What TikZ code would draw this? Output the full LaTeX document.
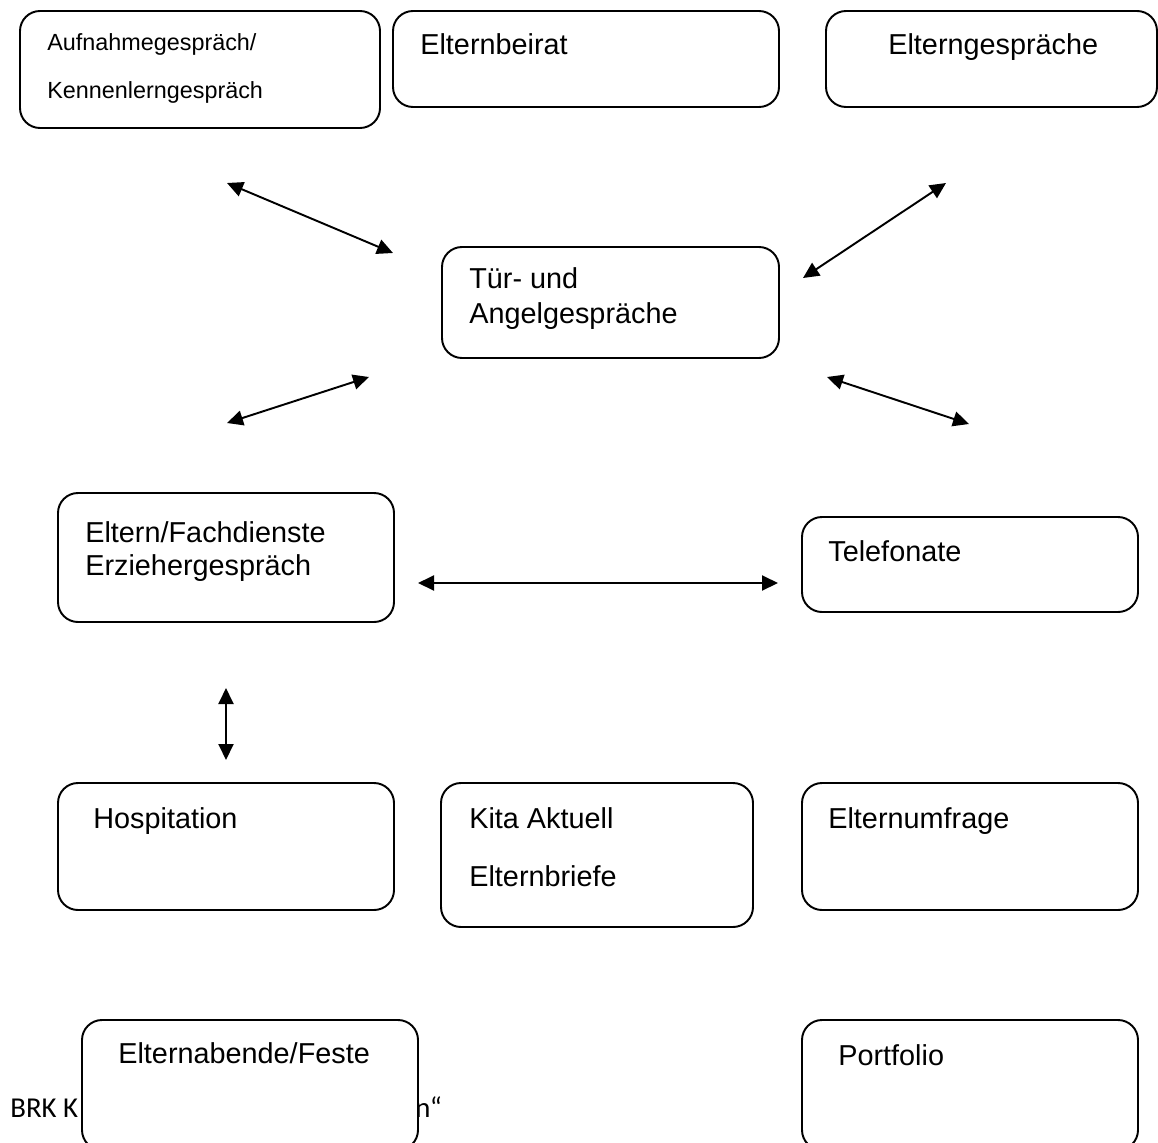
\documentclass[tikz,border=0pt]{standalone}
\usepackage{fontspec}
\setmainfont{Liberation Sans}
\newfontfamily\footfont{Carlito}
\usepackage{tikz}
\usetikzlibrary{arrows.meta,fit}

\begin{document}
\begin{tikzpicture}[
    x=0.02cm, y=-0.02cm,
    >={Triangle[length=0.32cm, width=0.3cm]},
    box/.style={draw, line width=1.1pt, rounded corners=0.4cm, fill=white, inner sep=0pt},
    txt/.style={anchor=base west, inner sep=0pt, font=\fontsize{16.4}{20}\selectfont},
    smalltxt/.style={anchor=base west, inner sep=0pt, font=\fontsize{13.3}{16}\selectfont},
    foot/.style={anchor=base west, inner sep=0pt, font=\footfont\fontsize{16.4}{20}\selectfont},
    link/.style={<->, line width=1.1pt}
]
    \useasboundingbox (0,0) rectangle (1158,1142);

    % Footer line (partly hidden behind the box below)
    \node[foot] (footA) at (10,1117) {BRK K};
    \node[foot] (footB) at (415,1117) {n“};

    % Top row
    \node[box, fit={(20,11) (380,128)}] (aufnahme) {};
    \node[smalltxt] (aufnahmeA) at (47,51) {Aufnahmegespräch/};
    \node[smalltxt] (aufnahmeB) at (47,99) {Kennenlerngespräch};
    \node[box, fit={(393,11) (779,107)}] (beirat) {};
    \node[txt] (beiratT) at (420,55) {Elternbeirat};
    \node[box, fit={(826,11) (1157,107)}] (gespraeche) {};
    \node[txt] (gespraecheT) at (888,55) {Elterngespräche};

    % Centre
    \node[box, fit={(442,247) (779,358)}] (tuer) {};
    \node[txt] (tuerA) at (469,288) {Tür- und};
    \node[txt] (tuerB) at (469,323) {Angelgespräche};

    % Middle row
    \node[box, fit={(58,493) (394,622)}] (fach) {};
    \node[txt] (fachA) at (85,542) {Eltern/Fachdienste};
    \node[txt] (fachB) at (85,575) {Erziehergespräch};
    \node[box, fit={(802,517) (1138,612)}] (telefon) {};
    \node[txt] (telefonT) at (828,561) {Telefonate};

    % Lower row
    \node[box, fit={(58,783) (394,910)}] (hosp) {};
    \node[txt] (hospT) at (93,828) {Hospitation};
    \node[box, fit={(441,783) (753,927)}] (kita) {};
    \node[txt] (kitaA) at (469,828) {Kita Aktuell};
    \node[txt] (kitaB) at (469,886) {Elternbriefe};
    \node[box, fit={(802,783) (1138,910)}] (umfrage) {};
    \node[txt] (umfrageT) at (828,828) {Elternumfrage};

    % Bottom row (cut off by the page edge)
    \node[box, fit={(82,1020) (418,1150)}] (abende) {};
    \node[txt] (abendeT) at (118,1063) {Elternabende/Feste};
    \node[box, fit={(802,1020) (1138,1150)}] (portfolio) {};
    \node[txt] (portfolioT) at (838,1065) {Portfolio};

    % Arrow ends
    \coordinate (nwA) at (227,183);
    \coordinate (nwB) at (393,253);
    \coordinate (neA) at (946,183);
    \coordinate (neB) at (803,278);
    \coordinate (swA) at (227,423);
    \coordinate (swB) at (369,377);
    \coordinate (seA) at (827,377);
    \coordinate (seB) at (969,424);
    \coordinate (midA) at (418,583);
    \coordinate (midB) at (778,583);
    \coordinate (vertA) at (226,688);
    \coordinate (vertB) at (226,760);

    % Arrows
    \draw[link] (nwA) -- (nwB);
    \draw[link] (neA) -- (neB);
    \draw[link] (swA) -- (swB);
    \draw[link] (seA) -- (seB);
    \draw[link] (midA) -- (midB);
    \draw[link] (vertA) -- (vertB);

\end{tikzpicture}
\end{document}
